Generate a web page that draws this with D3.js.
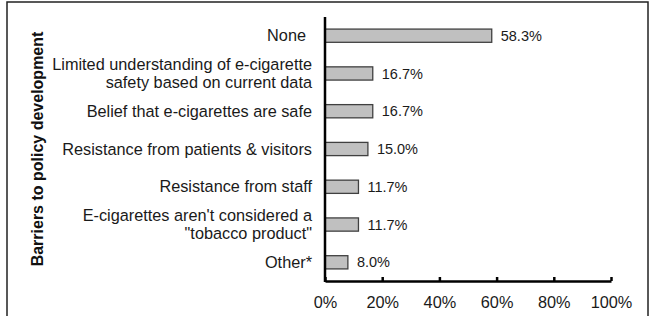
<!DOCTYPE html>
<meta charset="utf-8">
<head>
	<title>Barriers to policy development</title>
</head>

<style>
body { margin: 0; background: #fff; }
svg { display: block; font-family: "Liberation Sans", Arial, sans-serif; }
.bar { fill: #c0c0c0; stroke: #404040; stroke-width: 1.3; }
.val { font-size: 14.5px; fill: #1a1a1a; }
.lbl, .tick-lbl { font-size: 16.3px; fill: #1a1a1a; }
.ytitle { font-size: 16px; font-weight: bold; fill: #111; }
</style>

<body>
<svg width="652" height="316"></svg>

<script src="https://cdnjs.cloudflare.com/ajax/libs/d3/7.8.5/d3.min.js"></script>
<script>

// categories (top to bottom), each split into lines
var categories = [
	["None"],
	["Limited understanding of e-cigarette", "safety based on current data"],
	["Belief that e-cigarettes are safe"],
	["Resistance from patients & visitors"],
	["Resistance from staff"],
	["E-cigarettes aren't considered a", "\"tobacco product\""],
	["Other*"]
];
var values = [58.3, 16.7, 16.7, 15.0, 11.7, 11.7, 8.0];
var xTicks = [0, 20, 40, 60, 80, 100];

var svg = d3.select("svg");

// outer frame
svg.append("rect")
	.attr("x", 7).attr("y", 2)
	.attr("width", 641).attr("height", 330)
	.attr("fill", "none").attr("stroke", "#222").attr("stroke-width", 1.5);

var x = d3.scaleLinear().domain([0, 100]).range([325, 611]);
var y = d3.scaleBand().domain(d3.range(values.length)).range([17, 281]).paddingInner(0.65).paddingOuter(0.32);

// bars
svg.selectAll(".bar").data(values).enter().append("rect")
	.attr("class", "bar")
	.attr("x", x(0))
	.attr("y", function(d, i){ return y(i); })
	.attr("width", function(d){ return x(d) - x(0); })
	.attr("height", y.bandwidth());

// value labels
svg.selectAll(".val").data(values).enter().append("text")
	.attr("class", "val")
	.attr("x", function(d){ return x(d) + 9; })
	.attr("y", function(d, i){ return y(i) + y.bandwidth() / 2; })
	.attr("dy", "0.35em")
	.text(function(d){ return d.toFixed(1) + "%"; });

// category labels
var lbl = svg.selectAll(".lbl").data(categories).enter().append("text")
	.attr("class", "lbl")
	.attr("text-anchor", "end")
	.attr("x", function(d){ return d[0] == "None" ? 306 : 312; })
	.attr("y", function(d, i){ return y(i) + y.bandwidth() / 2; });
lbl.each(function(d){
	var t = d3.select(this);
	var n = d.length;
	d.forEach(function(line, j){
		t.append("tspan")
			.attr("x", t.attr("x"))
			.attr("dy", j == 0 ? ((0.35 - (n - 1) * 0.56) + "em") : "1.12em")
			.text(line);
	});
});

// x axis
var xAxis = svg.append("g").attr("transform", "translate(0,281)")
	.call(d3.axisBottom(x).tickValues(xTicks).tickSizeInner(-4).tickSizeOuter(0).tickFormat(function(d){ return d + "%"; }));
xAxis.select(".domain").attr("stroke", "#000").attr("stroke-width", 2.5);
xAxis.selectAll(".tick line").attr("stroke", "#000").attr("stroke-width", 2.5);
xAxis.selectAll(".tick text").attr("class", "tick-lbl").attr("y", 15).attr("dy", "0.71em");
xAxis.attr("font-size", null).attr("font-family", null);

// y axis line
svg.append("line")
	.attr("x1", x(0)).attr("x2", x(0))
	.attr("y1", 17).attr("y2", 282)
	.attr("stroke", "#000").attr("stroke-width", 2.5);

// y title
svg.append("text")
	.attr("class", "ytitle")
	.attr("text-anchor", "middle")
	.attr("transform", "translate(43,149) rotate(-90)")
	.text("Barriers to policy development");

</script>
</body>
</html>
